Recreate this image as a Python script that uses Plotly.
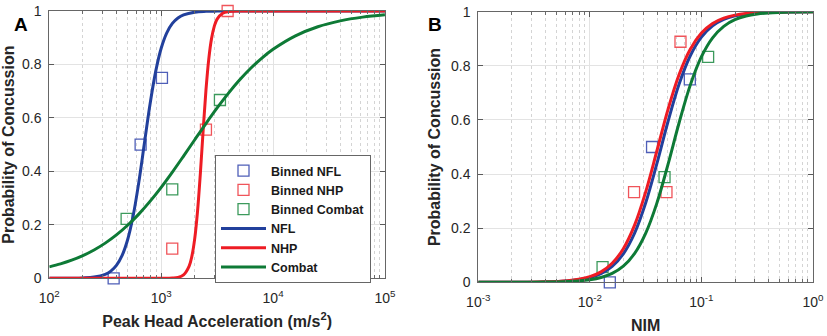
import plotly.graph_objects as go

# ---------------- Panel A data (Peak Head Acceleration, m/s^2) ----------------
a_nfl_bin_x = [376, 655, 1016]
a_nfl_bin_y = [0.0, 0.5, 0.75]
a_nhp_bin_x = [1256, 2512, 3925]
a_nhp_bin_y = [0.111, 0.556, 1.0]
a_cbt_bin_x = [491, 1256, 3350]
a_cbt_bin_y = [0.222, 0.333, 0.667]

# fitted curves (exponent of x, probability)
a_nfl_log10x = [2.0, 2.2, 2.3, 2.4, 2.5, 2.55, 2.6, 2.65, 2.7, 2.75, 2.8, 2.85, 2.9, 2.95,
                3.0, 3.05, 3.1, 3.15, 3.2, 3.3, 3.4, 3.5, 3.7, 4.0, 5.0]
a_nfl_p = [0.0, 0.0004, 0.0014, 0.0046, 0.0151, 0.0271, 0.0483, 0.0847, 0.1443, 0.2351, 0.3589,
           0.505, 0.6502, 0.7721, 0.8606, 0.9184, 0.9535, 0.9739, 0.9855, 0.9956, 0.9987,
           0.9996, 1.0, 1.0, 1.0]
a_nhp_log10x = [2.0, 3.0, 3.1, 3.15, 3.2, 3.25, 3.275, 3.3, 3.325, 3.35, 3.375, 3.4, 3.425,
                3.45, 3.475, 3.5, 3.55, 3.6, 3.7, 3.8, 5.0]
a_nhp_p = [0.0, 0.0001, 0.001, 0.0035, 0.0129, 0.0457, 0.0839, 0.1493, 0.2516, 0.3917, 0.5523,
           0.7027, 0.8191, 0.8966, 0.9433, 0.9695, 0.9915, 0.9977, 0.9998, 1.0, 1.0]
a_cbt_log10x = [2.0, 2.1, 2.2, 2.3, 2.4, 2.5, 2.6, 2.7, 2.8, 2.9, 3.0, 3.1, 3.2, 3.3, 3.4, 3.5,
                3.6, 3.7, 3.8, 3.9, 4.0, 4.2, 4.4, 4.6, 4.8, 5.0]
a_cbt_p = [0.0426, 0.0538, 0.0677, 0.085, 0.106, 0.1316, 0.1622, 0.1984, 0.2402, 0.2877, 0.3404,
           0.3974, 0.4572, 0.5184, 0.579, 0.6373, 0.6918, 0.7414, 0.7856, 0.824, 0.8567, 0.907,
           0.941, 0.963, 0.977, 0.9858]

# ---------------- Panel B data (NIM) ----------------
b_nfl_bin_x = [0.0151, 0.0361, 0.0787]
b_nfl_bin_y = [0.0, 0.5, 0.75]
b_nhp_bin_x = [0.0249, 0.0486, 0.0649]
b_nhp_bin_y = [0.333, 0.333, 0.889]
b_cbt_bin_x = [0.0130, 0.0467, 0.1148]
b_cbt_bin_y = [0.056, 0.389, 0.833]

b_log10x = [-3.0, -2.8, -2.6, -2.4, -2.2, -2.1, -2.0, -1.9, -1.8, -1.7, -1.6, -1.5, -1.4, -1.3,
            -1.2, -1.1, -1.0, -0.9, -0.8, -0.7, -0.6, -0.5, -0.4, -0.2, 0.0]
b_nfl_p = [0.00003, 0.00011, 0.0004, 0.00142, 0.005, 0.00935, 0.01743, 0.0322, 0.0588, 0.1051,
           0.1806, 0.2928, 0.4373, 0.5934, 0.7326, 0.8373, 0.9062, 0.9477, 0.9715, 0.9846,
           0.9918, 0.9956, 0.9976, 0.9993, 0.9998]
b_nhp_p = [0.00004, 0.00014, 0.00049, 0.00172, 0.00604, 0.01128, 0.02097, 0.0387, 0.0703,
           0.1242, 0.2103, 0.3334, 0.4843, 0.6381, 0.768, 0.8615, 0.9211, 0.9564, 0.9763,
           0.9872, 0.9932, 0.9963, 0.998, 0.9995, 0.9998]
b_cbt_p = [0.00002, 0.00007, 0.00023, 0.0008, 0.00277, 0.00516, 0.0096, 0.0178, 0.0327, 0.0594,
           0.1056, 0.1805, 0.2916, 0.4348, 0.5896, 0.7286, 0.8337, 0.9035, 0.9459, 0.9703,
           0.9839, 0.9913, 0.9953, 0.9987, 0.9996]

a_ticks = [1e2, 1e3, 1e4, 1e5]
a_ticktext = ["10<sup>2</sup>", "10<sup>3</sup>", "10<sup>4</sup>", "10<sup>5</sup>"]
b_ticks = [1e-3, 1e-2, 1e-1, 1e0]
b_ticktext = ["10<sup>-3</sup>", "10<sup>-2</sup>", "10<sup>-1</sup>", "10<sup>0</sup>"]
y_ticks = [0, 0.2, 0.4, 0.6, 0.8, 1.0]
y_ticktext = ["0", "0.2", "0.4", "0.6", "0.8", "1"]

# ---------------- styles ----------------
C_NFL_LINE, C_NHP_LINE, C_CBT_LINE = "#22409c", "#ee1c24", "#0e7a36"
C_NFL_MK, C_NHP_MK, C_CBT_MK = "#4f5fb8", "#f0545a", "#3c9a5c"
FONT = "Liberation Sans, Arial, sans-serif"

fig = go.Figure()


def add_panel(xa, ya, bins, curves, show):
    for name, xs, ys, col in bins:
        fig.add_trace(go.Scatter(
            x=xs, y=ys, mode="markers", name=name, showlegend=show, cliponaxis=False,
            marker=dict(symbol="square-open", size=11, color=col, line=dict(width=1.3, color=col)),
            xaxis=xa, yaxis=ya))
    for name, lx, ys, col in curves:
        fig.add_trace(go.Scatter(
            x=[10 ** v for v in lx], y=ys, mode="lines", name=name, showlegend=show,
            line=dict(color=col, width=3, shape="spline", smoothing=1.0),
            xaxis=xa, yaxis=ya))


add_panel("x", "y",
          [("Binned NFL", a_nfl_bin_x, a_nfl_bin_y, C_NFL_MK),
           ("Binned NHP", a_nhp_bin_x, a_nhp_bin_y, C_NHP_MK),
           ("Binned Combat", a_cbt_bin_x, a_cbt_bin_y, C_CBT_MK)],
          [("NFL", a_nfl_log10x, a_nfl_p, C_NFL_LINE),
           ("NHP", a_nhp_log10x, a_nhp_p, C_NHP_LINE),
           ("Combat", a_cbt_log10x, a_cbt_p, C_CBT_LINE)], True)
add_panel("x2", "y2",
          [("Binned NFL", b_nfl_bin_x, b_nfl_bin_y, C_NFL_MK),
           ("Binned NHP", b_nhp_bin_x, b_nhp_bin_y, C_NHP_MK),
           ("Binned Combat", b_cbt_bin_x, b_cbt_bin_y, C_CBT_MK)],
          [("NFL", b_log10x, b_nfl_p, C_NFL_LINE),
           ("NHP", b_log10x, b_nhp_p, C_NHP_LINE),
           ("Combat", b_log10x, b_cbt_p, C_CBT_LINE)], False)


def minor_vals(lo, hi):
    out = []
    for e in range(lo, hi):
        out += [m * 10 ** e for m in range(2, 10)]
    return out


def xaxis(dom, rng, tv, tt, title, anchor):
    return dict(
        type="log", domain=dom, range=rng, anchor=anchor, automargin=False,
        tickmode="array", tickvals=tv, ticktext=tt,
        ticks="inside", ticklen=5, tickcolor="#5a5a5a", ticklabelstandoff=7,
        showline=True, linecolor="#666666", linewidth=1, mirror="ticks",
        showgrid=True, gridcolor="#e3e3e3", gridwidth=1,
        minor=dict(tickmode="array", tickvals=minor_vals(int(rng[0]), int(rng[1])),
                   ticks="inside", ticklen=3, tickcolor="#6a6a6a",
                   showgrid=True, gridcolor="#d4d4d4", griddash="dot", gridwidth=1),
        tickfont=dict(size=14, color="#262626", family=FONT),
        title=dict(text=title, font=dict(size=16, color="#262626", family=FONT), standoff=10),
        zeroline=False)


def yaxis(dom, anchor):
    return dict(
        domain=dom, range=[0, 1], anchor=anchor, automargin=False,
        tickmode="array", tickvals=y_ticks, ticktext=y_ticktext,
        ticks="inside", ticklen=5, tickcolor="#5a5a5a", ticklabelstandoff=4,
        showline=True, linecolor="#666666", linewidth=1, mirror="ticks",
        showgrid=True, gridcolor="#e3e3e3", gridwidth=1,
        tickfont=dict(size=14, color="#262626", family=FONT),
        title=dict(text="<b>Probability of Concussion</b>",
                   font=dict(size=16, color="#262626", family=FONT), standoff=6),
        zeroline=False)


fig.update_layout(
    width=827, height=336,
    margin=dict(l=0, r=0, t=0, b=0, autoexpand=False),
    paper_bgcolor="white", plot_bgcolor="white",
    font=dict(family=FONT, color="#262626"),
    xaxis=xaxis([0.0596, 0.4655], [2, 5], a_ticks, a_ticktext,
                "<b>Peak Head Acceleration (m/s<sup>2</sup>)</b>", "y"),
    yaxis=yaxis([0.1717, 0.9673], "x"),
    xaxis2=xaxis([0.5783, 0.9831], [-3, 0], b_ticks, b_ticktext, "<b>NIM</b>", "y2"),
    yaxis2=yaxis([0.1598, 0.9652], "x2"),
    legend=dict(x=215 / 827, y=1 - 155 / 336, xanchor="left", yanchor="top",
                bgcolor="white", bordercolor="#666666", borderwidth=1,
                font=dict(size=12.5, color="#1a1a1a", family=FONT, weight="bold"),
                itemwidth=45, tracegroupgap=0),
    showlegend=True,
)
fig.add_annotation(text="<b>A</b>", x=12 / 827, y=1 - 12 / 336, xref="paper", yref="paper",
                   showarrow=False, font=dict(size=19, color="black", family=FONT))
fig.add_annotation(text="<b>B</b>", x=435 / 827, y=1 - 12 / 336, xref="paper", yref="paper",
                   showarrow=False, font=dict(size=19, color="black", family=FONT))

fig.write_html("out.html", config={"displayModeBar": False},
               post_script="document.body.style.margin='0px';")
